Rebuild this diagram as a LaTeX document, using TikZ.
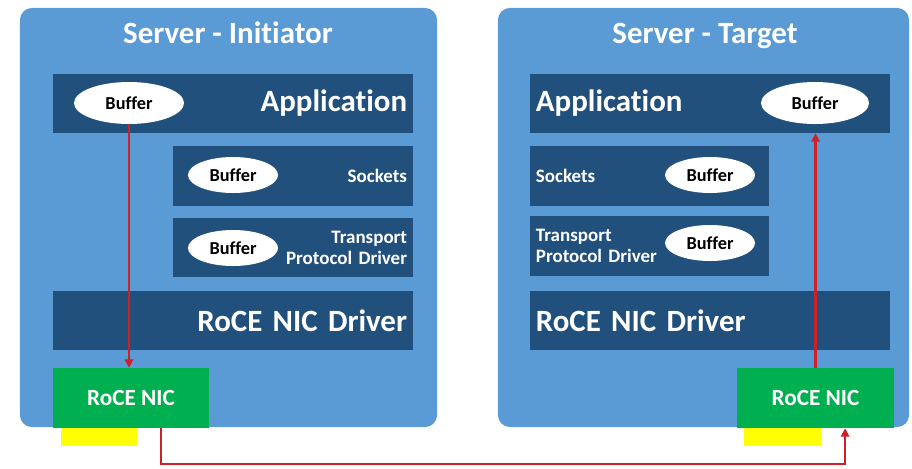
\documentclass[tikz,border=0pt]{standalone}
\usepackage{fontspec}
\setmainfont{Carlito}[RawFeature=-liga]
\usetikzlibrary{shapes.geometric,arrows.meta}

\definecolor{srvblue}{RGB}{91,155,213}
\definecolor{layerblue}{RGB}{33,80,124}
\definecolor{nicgreen}{RGB}{0,176,80}
\definecolor{portyellow}{RGB}{255,255,0}
\definecolor{wirered}{RGB}{205,32,40}

\begin{document}
\begin{tikzpicture}[x=0.025cm, y=-0.025cm,
    server/.style={fill=srvblue, rounded corners=0.3cm, minimum height=10.475cm, inner sep=0pt},
    title/.style={text=white, anchor=base, font=\bfseries\fontsize{22}{26}\selectfont},
    layer/.style={fill=layerblue, text=white, inner xsep=0.15cm, inner ysep=0pt, minimum height=1.475cm},
    big/.style={font=\bfseries\fontsize{22}{26}\selectfont},
    small/.style={font=\bfseries\fontsize{13.5}{15}\selectfont},
    buffer/.style={ellipse, fill=white, text=black, inner sep=0pt, font=\bfseries\fontsize{13}{15}\selectfont},
    nic/.style={fill=nicgreen, text=white, minimum width=3.9cm, minimum height=1.5cm, inner sep=0pt, font=\bfseries\fontsize{16.5}{20}\selectfont},
    port/.style={fill=portyellow, minimum width=1.9cm, minimum height=0.45cm, inner sep=0pt},
    wire/.style={draw=wirered, line width=1.6pt, -{Triangle[length=6pt,width=6pt]}}
]

    \useasboundingbox (0,0) rectangle (912,468);

    % the two servers
    \node[server, minimum width=10.425cm] (srvL) at (228.5,217.5) {};
    \node[server, minimum width=10.275cm] (srvR) at (703.5,217.5) {};
    \node[title] (titleL) at (228,43) {Server - Initiator};
    \node[title] (titleR) at (705,43) {Server - Target};

    % initiator stack
    \node[layer, big, text width=8.7cm, align=right] (appL) at (233,103.5) {Application};
    \node[layer, small, text width=5.7cm, align=right] (sockL) at (293,176) {Sockets};
    \node[layer, small, text width=5.7cm, align=right] (transL) at (293,247.5) {Transport\\Protocol Driver};
    \node[layer, big, text width=8.7cm, align=right] (drvL) at (233,320.5) {RoCE NIC Driver};
    \node[port] (portL) at (99,437) {};
    \node[nic] (nicL) at (131,398) {RoCE NIC};

    \node[buffer, minimum width=2.75cm, minimum height=1.05cm] (bufAppL) at (129,103) {Buffer};
    \node[buffer, minimum width=2.25cm, minimum height=0.9cm] (bufSockL) at (233,175) {Buffer};
    \node[buffer, minimum width=2.25cm, minimum height=0.9cm] (bufTransL) at (233,248) {Buffer};

    % target stack
    \node[layer, big, text width=8.7cm, align=left] (appR) at (710,103.5) {Application};
    \node[layer, small, text width=5.675cm, align=left] (sockR) at (649.5,176) {Sockets};
    \node[layer, small, text width=5.675cm, align=left] (transR) at (649.5,246) {Transport\\Protocol Driver};
    \node[layer, big, text width=8.7cm, align=left] (drvR) at (710,320.5) {RoCE NIC Driver};
    \node[port, minimum width=1.925cm] (portR) at (782.5,437) {};
    \node[nic, minimum width=3.925cm] (nicR) at (815.5,398) {RoCE NIC};

    \node[buffer, minimum width=2.7cm, minimum height=1.05cm] (bufAppR) at (815,103) {Buffer};
    \node[buffer, minimum width=2.25cm, minimum height=0.9cm] (bufSockR) at (710,175) {Buffer};
    \node[buffer, minimum width=2.25cm, minimum height=0.9cm] (bufTransR) at (710,243) {Buffer};

    % data path
    \draw[wire] (bufAppL.south) -- (bufAppL.south |- nicL.north);
    \draw[wire] ([xshift=0.75cm]nicL.south) -- ++(0,36) -| ([xshift=0.74cm]nicR.south);
    \draw[wire] (nicR.north) -- (nicR.north |- appR.south);

\end{tikzpicture}
\end{document}
